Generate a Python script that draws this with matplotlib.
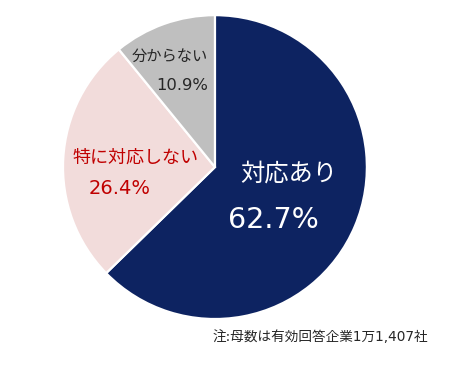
import matplotlib
matplotlib.use("Agg")
import matplotlib.pyplot as plt

# DejaVu for latin/digits (wide, Meiryo-like), Noto CJK for the Japanese
plt.rcParams['font.family'] = ['DejaVu Sans', 'Noto Sans CJK JP']

labels = ['対応あり', '特に対応しない', '分からない']
shares = [62.7, 26.4, 10.9]
colors = ['#0d2361', '#f2dcdb', '#bfbfbf']
note = '注:母数は有効回答企業1万1,407社'

fig = plt.figure(figsize=(4.69, 3.77), dpi=100)
ax = fig.add_axes([0.1343, 0.1538, 0.648, 0.806])
ax.pie(shares, colors=colors, startangle=90, counterclock=False, radius=1,
       wedgeprops=dict(edgecolor='white', linewidth=1.6))
ax.set_xlim(-1, 1)
ax.set_ylim(-1, 1)
ax.set_aspect('equal')
ax.axis('off')

# label positions in pie units (radius 1), baseline anchored
ax.text(0.484, -0.088, labels[0], color='white', fontsize=17.5, ha='center', va='baseline')
ax.text(0.388, -0.40, f'{shares[0]}%', color='white', fontsize=20.5, ha='center', va='baseline')
ax.text(-0.523, 0.026, labels[1], color='#c00000', fontsize=13, ha='center', va='baseline')
ax.text(-0.628, -0.177, f'{shares[1]}%', color='#c00000', fontsize=14, ha='center', va='baseline')
ax.text(-0.046, 0.701, labels[2], color='#262626', fontsize=11, ha='right', va='baseline')
ax.text(-0.046, 0.507, f'{shares[2]}%', color='#262626', fontsize=11.8, ha='right', va='baseline')

fig.text(428 / 469, 1 - 341 / 377, note, fontsize=9.8, color='#262626', ha='right', va='baseline')

fig.savefig('out.png', dpi=100, facecolor='white')
